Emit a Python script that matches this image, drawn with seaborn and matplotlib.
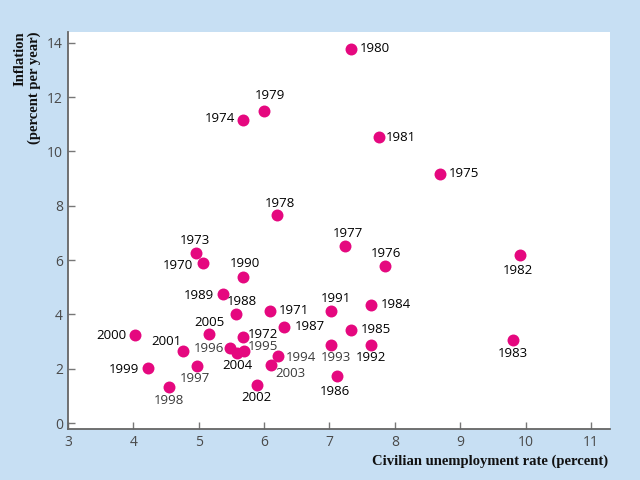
import pandas as pd
import matplotlib
matplotlib.use("Agg")
import matplotlib.pyplot as plt
import seaborn as sns

# Unemployment rate (percent) and inflation (percent per year)
years = [1970, 1971, 1972, 1973, 1974, 1975, 1976, 1977, 1978, 1979,
         1980, 1981, 1982, 1983, 1984, 1985, 1986, 1987, 1988, 1989,
         1990, 1991, 1992, 1993, 1994, 1995, 1996, 1997, 1998, 1999,
         2000, 2001, 2002, 2003, 2004, 2005]
unemployment = [5.07, 6.09, 5.68, 4.96, 5.68, 8.69, 7.85, 7.24, 6.20, 6.00,
                7.33, 7.76, 9.91, 9.81, 7.63, 7.33, 7.11, 6.30, 5.57, 5.37,
                5.68, 7.02, 7.63, 7.02, 6.21, 5.69, 5.48, 4.97, 4.54, 4.22,
                4.02, 4.76, 5.89, 6.11, 5.59, 5.16]
inflation = [5.89, 4.13, 3.17, 6.26, 11.16, 9.17, 5.78, 6.52, 7.66, 11.49,
             13.78, 10.53, 6.19, 3.06, 4.35, 3.43, 1.73, 3.54, 4.01, 4.75,
             5.38, 4.13, 2.87, 2.87, 2.47, 2.65, 2.76, 2.10, 1.33, 2.03,
             3.24, 2.65, 1.40, 2.14, 2.58, 3.28]

# label offsets (points) from each dot
label_offsets = {
    1970: (-18, -2), 1971: (17, 0), 1972: (14, 2), 1973: (-1, 9),
    1974: (-17, 1), 1975: (17, 0), 1976: (1, 9), 1977: (2, 9),
    1978: (2, 8), 1979: (4, 11), 1980: (17, 0), 1981: (16, 0),
    1982: (-1, -11), 1983: (0, -10), 1984: (18, 0), 1985: (18, 0),
    1986: (-1, -11), 1987: (19, 0), 1988: (4, 9), 1989: (-17, -1),
    1990: (1, 10), 1991: (4, 9), 1992: (0, -9), 1993: (4, -9),
    1994: (17, -1), 1995: (14, 3), 1996: (-15, 0), 1997: (-1, -9),
    1998: (0, -10), 1999: (-17, -1), 2000: (-17, 0), 2001: (-12, 7),
    2002: (0, -9), 2003: (14, -6), 2004: (0, -9), 2005: (0, 8),
}
grey_labels = [1993, 1994, 1995, 1996, 1997, 1998, 2003]

df = pd.DataFrame({"year": years, "unemployment": unemployment,
                   "inflation": inflation})

sns.set_style("ticks")
plt.rcParams["font.family"] = ["Open Sans", "DejaVu Sans"]

fig = plt.figure(figsize=(6.4, 4.8), dpi=100)
fig.patch.set_facecolor("#c7dff3")
ax = fig.add_axes([0.106, 0.106, 0.847, 0.827])
ax.set_facecolor("white")

sns.scatterplot(data=df, x="unemployment", y="inflation", ax=ax,
                color="#e5087f", s=74, linewidth=0, zorder=3)

for _, row in df.iterrows():
    yr = int(row["year"])
    dx, dy = label_offsets[yr]
    col = "#3a3a3a" if yr in grey_labels else "#000000"
    ax.annotate(str(yr), (row["unemployment"], row["inflation"]),
                xytext=(dx, dy), textcoords="offset points",
                ha="center", va="center", fontsize=9.5, color=col)

ax.set_xlim(3, 11.29)
ax.set_ylim(-0.22, 14.39)
ax.set_xticks(range(3, 12))
ax.set_yticks(range(0, 15, 2))
ax.tick_params(direction="in", length=5, width=1, color="#777777",
               labelcolor="#4a4a4a", labelsize=10)
ax.tick_params(axis="x", pad=4)
for side in ["top", "right"]:
    ax.spines[side].set_visible(False)
for side in ["left", "bottom"]:
    ax.spines[side].set_color("#666666")
    ax.spines[side].set_linewidth(1.3)
ax.set_xlabel("")
ax.set_ylabel("")

fig.text(0.042, 0.935, "Inflation\n(percent per year)", rotation=90,
         ha="center", va="top", multialignment="right",
         family="Liberation Serif", fontweight="bold", fontsize=10.5,
         color="#111111", linespacing=1.1)
fig.text(0.95, 0.04, "Civilian unemployment rate (percent)",
         ha="right", va="center", family="Liberation Serif",
         fontweight="bold", fontsize=10.5, color="#111111")

fig.savefig("out.png", dpi=100, facecolor=fig.get_facecolor())
